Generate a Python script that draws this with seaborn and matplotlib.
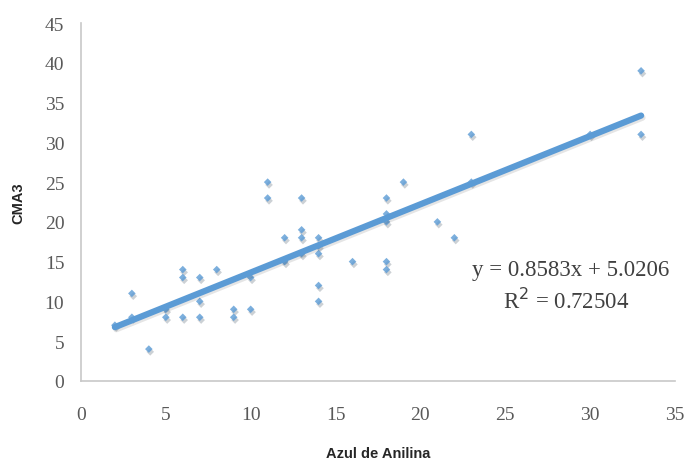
import numpy as np
import pandas as pd
import matplotlib
matplotlib.use("Agg")
import matplotlib.pyplot as plt
import matplotlib.patheffects as pe
import seaborn as sns

# values
azul = [2, 3, 3, 4, 5, 5, 6, 6, 6, 7, 7, 7, 8, 9, 9, 10, 10,
        11, 11, 12, 12, 13, 13, 13, 13, 14, 14, 14, 14, 14,
        16, 18, 18, 18, 18, 18, 19, 21, 22, 23, 23, 30, 33, 33]
cma3 = [7, 11, 8, 4, 9, 8, 14, 13, 8, 13, 10, 8, 14, 9, 8, 13, 9,
        25, 23, 18, 15, 23, 19, 18, 16, 18, 17, 16, 12, 10,
        15, 23, 21, 20, 15, 14, 25, 20, 18, 31, 25, 31, 39, 31]
eq_text = "y = 0.8583x + 5.0206"
r2_text = "R$^2$ = 0.72504"
x_ticks = [0, 5, 10, 15, 20, 25, 30, 35]
y_ticks = [0, 5, 10, 15, 20, 25, 30, 35, 40, 45]

df = pd.DataFrame({"Azul de Anilina": azul, "CMA3": cma3})

sns.set_style("white")
blue = "#5b9bd5"
grey = "#c8c8c8"

fig = plt.figure(figsize=(6.86, 4.64), dpi=100)
ax = fig.add_axes([0.118, 0.177, 0.866, 0.771])

shadow = [pe.SimplePatchShadow(offset=(1, -2), alpha=0.22), pe.Normal()]
line_shadow = [pe.SimpleLineShadow(offset=(1, -1.5), alpha=0.1), pe.Normal()]

sns.regplot(data=df, x="Azul de Anilina", y="CMA3", ax=ax, ci=None,
            marker="D",
            scatter_kws={"s": 15, "color": blue, "linewidths": 0},
            line_kws={"color": blue, "lw": 4.5, "solid_capstyle": "round"})
ax.collections[0].set_path_effects(shadow)
ax.lines[0].set_path_effects(line_shadow)

ax.set_xlim(0, 35)
ax.set_ylim(0, 45)
ax.set_xticks(x_ticks)
ax.set_yticks(y_ticks)

for s in ["top", "right"]:
    ax.spines[s].set_visible(False)
for s in ["left", "bottom"]:
    ax.spines[s].set_color(grey)
    ax.spines[s].set_linewidth(1.2)

ax.tick_params(axis="both", direction="out", length=6, width=1.2, color=grey,
               labelcolor="#595959", labelsize=14, pad=6)
ax.tick_params(axis="x", pad=12)
for lab in ax.get_xticklabels() + ax.get_yticklabels():
    lab.set_family("Liberation Serif")

ax.set_xlabel("Azul de Anilina", family="Liberation Sans", fontweight="bold",
              fontsize=10.5, labelpad=17)
ax.set_ylabel("CMA3", family="Liberation Sans", fontweight="bold",
              fontsize=10.5, labelpad=14)

ax.text(0.99, 0.31, eq_text, transform=ax.transAxes, ha="right", va="center",
        family="Liberation Serif", fontsize=16.5, color="#404040")
ax.text(0.923, 0.225, r2_text, transform=ax.transAxes, ha="right", va="center",
        family="Liberation Serif", fontsize=16.5, color="#404040")

fig.savefig("out.png", dpi=100)
